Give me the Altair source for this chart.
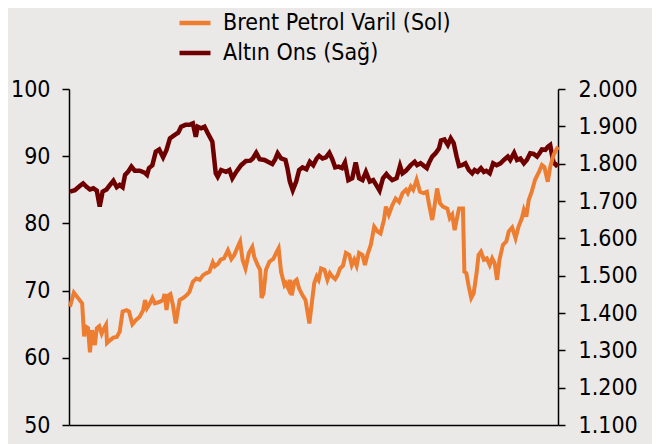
import altair as alt
import pandas as pd

OIL = "Brent Petrol Varil (Sol)"
GOLD = "Altın Ons (Sağ)"

# Brent (left axis, USD/barrel) – time index t in weeks (0..100)
oil_t = [0.2, 1.0, 2.7, 3.1, 3.5, 3.9, 4.3, 4.7, 5.3, 5.7,
         6.2, 6.7, 7.0, 7.6, 7.8, 8.4, 9.1, 9.8, 10.4, 11.0,
         11.8, 12.3, 13.0, 13.7, 14.5, 15.2, 15.6, 16.0, 16.6, 17.1,
         17.6, 18.5, 19.3, 19.6, 20.0, 20.4, 20.8, 21.3, 21.9, 22.3,
         22.7, 23.4, 24.1, 24.7, 25.4, 26.1, 26.8, 27.5, 28.2, 28.8,
         29.5, 29.9, 30.6, 31.1, 31.8, 32.6, 33.3, 33.9, 34.6, 35.1,
         35.6, 36.2, 36.9, 37.6, 38.0, 38.7, 39.2, 39.5, 39.9, 40.4,
         41.1, 41.9, 42.5, 43.0, 43.5, 44.2, 44.5, 45.0, 45.3, 45.7,
         46.2, 46.7, 47.2, 47.9, 48.5, 48.9, 49.3, 49.8, 50.3, 50.8,
         51.2, 51.7, 52.4, 53.0, 53.5, 54.0, 54.6, 55.1, 55.6, 56.2,
         56.8, 57.5, 58.0, 58.5, 59.0, 59.5, 60.2, 60.7, 61.2, 61.9,
         62.6, 63.3, 63.9, 64.6, 65.0, 65.6, 66.3, 67.0, 67.7, 68.4,
         69.1, 69.5, 70.1, 70.6, 71.3, 72.0, 72.7, 73.4, 73.8, 74.5,
         75.0, 75.5, 76.1, 76.7, 77.6, 78.1, 78.6, 79.1, 79.5, 80.0,
         80.8, 81.1, 81.5, 82.0, 82.5, 83.0, 83.6, 84.0, 84.5, 85.1,
         85.7, 86.3, 86.8, 87.3, 87.8, 88.3, 89.0, 89.7, 90.2, 90.9,
         91.6, 92.2, 92.9, 93.3, 93.8, 94.3, 94.9, 95.6, 96.3, 97.0,
         97.5, 98.2, 98.7, 99.4, 99.9, 100.3]
oil_v = [67.6, 69.7, 68.1, 63.2, 64.6, 64.4, 60.8, 64.1, 61.9, 64.4,
         64.7, 63.6, 64.1, 64.9, 62.2, 62.6, 63.0, 63.1, 63.9, 66.9,
         67.1, 66.9, 65.0, 65.6, 66.1, 67.1, 68.6, 67.4, 68.1, 68.9,
         68.1, 68.3, 68.6, 69.5, 67.1, 69.3, 69.5, 67.9, 65.1, 66.9,
         68.6, 68.9, 69.3, 69.8, 71.3, 71.8, 71.6, 72.3, 72.6, 72.8,
         74.2, 73.6, 74.0, 74.6, 74.8, 76.0, 74.7, 75.3, 76.5, 77.3,
         74.6, 73.3, 75.6, 76.5, 75.0, 73.8, 73.1, 68.9, 69.6, 73.1,
         74.3, 74.7, 75.6, 76.3, 72.8, 70.8, 71.1, 70.3, 71.6, 69.3,
         71.3, 71.6, 70.3, 69.3, 68.6, 66.9, 65.1, 68.1, 71.1, 72.1,
         71.6, 73.3, 73.1, 71.6, 72.6, 72.1, 71.7, 72.3, 73.3, 73.7,
         75.6, 75.3, 73.8, 74.6, 73.7, 75.6, 75.3, 73.8, 75.3, 76.8,
         79.5, 78.8, 78.5, 80.5, 82.5, 81.3, 82.7, 83.7, 83.2, 84.5,
         85.0, 84.5, 85.5, 85.0, 86.5, 84.7, 84.5, 84.7, 83.0, 80.5,
         82.7, 85.2, 83.0, 82.5, 82.2, 80.8, 81.3, 79.0, 80.5, 82.2,
         82.2, 72.8, 72.6, 70.6, 68.9, 69.6, 72.6, 75.3, 75.8, 74.6,
         74.8, 73.8, 74.8, 74.1, 71.6, 74.6, 76.8, 77.3, 78.8, 79.4,
         77.8, 79.5, 80.8, 82.0, 81.0, 83.5, 84.7, 86.5, 87.5, 88.7,
         88.4, 86.2, 88.4, 90.2, 90.9, 91.4]

# Gold (right axis, USD/ounce)
gold_t = [0.2, 1.2, 2.2, 2.9, 3.6, 4.3, 5.0, 5.7, 6.3, 6.9,
          7.7, 8.4, 9.1, 9.8, 10.4, 11.0, 11.5, 12.1, 12.8, 13.5,
          14.5, 15.5, 16.0, 16.4, 17.1, 17.8, 18.5, 19.3, 20.0, 20.7,
          21.7, 22.4, 23.0, 23.9, 24.7, 25.4, 26.0, 26.4, 27.1, 27.8,
          28.5, 29.4, 30.1, 30.5, 31.2, 32.2, 32.9, 33.5, 34.3, 35.3,
          36.3, 37.2, 37.7, 38.4, 39.1, 40.1, 40.8, 41.7, 42.3, 42.8,
          43.5, 44.4, 44.8, 45.3, 45.9, 46.6, 47.2, 47.9, 48.7, 49.4,
          50.1, 50.8, 51.3, 52.0, 52.7, 53.4, 54.0, 54.6, 55.3, 56.0,
          56.6, 57.3, 58.1, 58.8, 59.5, 60.2, 60.9, 61.7, 62.4, 63.0,
          63.7, 64.4, 65.1, 65.4, 66.3, 67.2, 67.9, 68.4, 69.1, 70.1,
          70.9, 71.4, 72.1, 72.8, 73.4, 73.8, 74.5, 75.2, 75.9, 76.3,
          77.0, 77.7, 78.3, 78.9, 79.5, 80.0, 80.6, 81.3, 82.0, 82.7,
          83.2, 83.8, 84.5, 85.1, 85.6, 86.3, 87.0, 87.7, 88.5, 89.2,
          90.0, 90.5, 91.3, 91.9, 92.6, 93.3, 93.9, 94.6, 95.3, 96.0,
          96.5, 97.0, 97.7, 98.2, 98.7, 99.0, 99.4, 99.9, 100.3]
gold_v = [1725, 1729, 1740, 1747, 1738, 1731, 1734, 1728, 1685, 1725,
          1731, 1743, 1754, 1737, 1743, 1737, 1770, 1778, 1792, 1781,
          1781, 1776, 1770, 1788, 1796, 1832, 1838, 1817, 1837, 1868,
          1877, 1883, 1899, 1904, 1904, 1908, 1872, 1899, 1895, 1899,
          1881, 1859, 1774, 1765, 1783, 1778, 1783, 1761, 1778, 1796,
          1807, 1808, 1814, 1829, 1812, 1810, 1805, 1799, 1812, 1828,
          1814, 1810, 1788, 1752, 1729, 1752, 1783, 1790, 1785, 1805,
          1796, 1814, 1821, 1814, 1817, 1829, 1812, 1790, 1792, 1788,
          1803, 1756, 1761, 1803, 1761, 1756, 1778, 1752, 1756, 1743,
          1728, 1761, 1772, 1767, 1756, 1761, 1794, 1774, 1781, 1796,
          1805, 1796, 1801, 1794, 1788, 1801, 1819, 1828, 1841, 1862,
          1865, 1850, 1868, 1855, 1819, 1794, 1796, 1801, 1783, 1774,
          1783, 1778, 1788, 1778, 1781, 1774, 1801, 1796, 1801, 1810,
          1819, 1810, 1829, 1810, 1814, 1801, 1810, 1828, 1826, 1819,
          1828, 1838, 1837, 1845, 1850, 1828, 1803, 1796, 1801]

left_ticks = [50, 60, 70, 80, 90, 100]
right_ticks = [1100, 1200, 1300, 1400, 1500, 1600, 1700, 1800, 1900, 2000]

oil_df = pd.DataFrame({"t": oil_t, "v": oil_v, "seri": OIL})
gold_df = pd.DataFrame({"t": gold_t, "v": gold_v, "seri": GOLD})

FONT = "DejaVu Sans Condensed"
ORANGE = "#ED7D31"
DARKRED = "#6E0000"

x = alt.X(
    "t:Q",
    scale=alt.Scale(domain=[0, 100.3], nice=False, zero=False),
    axis=alt.Axis(labels=False, ticks=False, grid=False, title=None,
                  domainColor="black", domainWidth=1.5),
)

color = alt.Color(
    "seri:N",
    scale=alt.Scale(domain=[OIL, GOLD], range=[ORANGE, DARKRED]),
    legend=alt.Legend(
        orient="none", legendX=108, legendY=-84, direction="vertical",
        title=None, symbolType="stroke", symbolStrokeWidth=4.5, symbolSize=961,
        labelFontSize=23, labelFont=FONT, labelColor="black", labelOffset=10,
        labelLimit=0, rowPadding=-3,
    ),
)

gold = alt.Chart(gold_df).mark_line(strokeWidth=4.5).encode(
    x=x,
    y=alt.Y(
        "v:Q",
        scale=alt.Scale(domain=[1100, 2000], nice=False, zero=False),
        axis=alt.Axis(
            orient="right", values=right_ticks, grid=False, title=None,
            labelExpr="replace(format(datum.value, ',.0f'), ',', '.')",
            labelFontSize=23, labelFont=FONT, labelColor="black",
            labelPadding=13, tickSize=7, tickColor="black", tickWidth=1.5,
            domainColor="black", domainWidth=1.5,
        ),
    ),
    color=color,
)

oil = alt.Chart(oil_df).mark_line(strokeWidth=4).encode(
    x=x,
    y=alt.Y(
        "v:Q",
        scale=alt.Scale(domain=[50, 100], nice=False, zero=False),
        axis=alt.Axis(
            orient="left", values=left_ticks, grid=False, title=None,
            labelFontSize=23, labelFont=FONT, labelColor="black",
            labelPadding=12, tickSize=7, tickColor="black", tickWidth=1.5,
            domainColor="black", domainWidth=1.5,
        ),
    ),
    color=color,
)

chart = (
    alt.layer(gold, oil)
    .resolve_scale(y="independent")
    .properties(
        width=489, height=336,
        autosize=alt.AutoSizeParams(type="none"),
        padding={"left": 61, "top": 81, "right": 94, "bottom": 19},
    )
    .configure(background="#EBE9E8")
    .configure_view(stroke=None)
)

chart.save("out.html", embed_options={"renderer": "svg", "actions": False})
